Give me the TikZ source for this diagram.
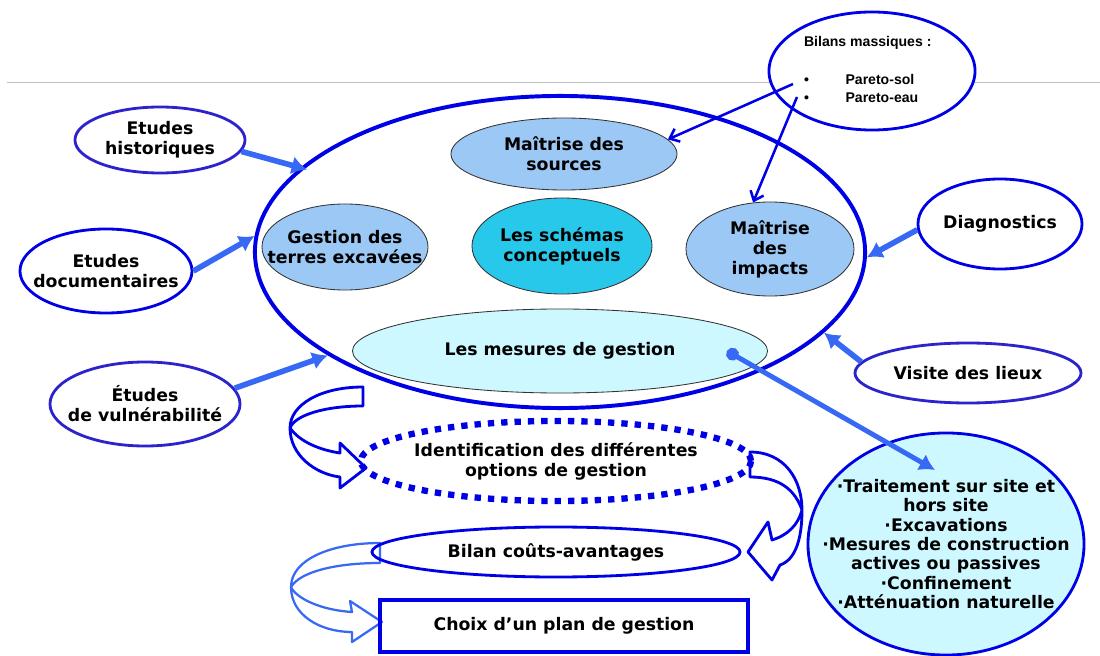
\documentclass[tikz,border=0pt]{standalone}
\usepackage{fontspec}
\setmainfont{DejaVu Sans}
\newfontfamily\arialfont{Liberation Sans}
\usetikzlibrary{shapes.geometric,arrows.meta}

\definecolor{mainblue}{RGB}{0,0,230}
\definecolor{outblue}{RGB}{45,35,205}
\definecolor{arrblue}{RGB}{55,105,245}
\definecolor{lightblue}{RGB}{155,200,245}
\definecolor{cyanfill}{RGB}{40,200,235}
\definecolor{palecyan}{RGB}{205,248,255}

\begin{document}
\begin{tikzpicture}[x=0.025cm,y=-0.025cm,
  every node/.style={font=\bfseries\fontsize{12.3}{14.2}\selectfont, align=center, inner sep=-1.5cm},
  outer/.style={ellipse, draw=outblue, line width=2pt, fill=white},
  inner/.style={ellipse, draw=black!80, line width=0.6pt, fill=lightblue},
  fatarrow/.style={-{Latex[length=11pt,width=13pt]}, arrblue, line width=4pt},
  fromlist/.style={-{Straight Barb[length=6pt,width=10pt]}, mainblue, line width=1.8pt},
  hollowarrow/.style={draw=mainblue, line width=2pt, fill=white, line join=round}]
\useasboundingbox (0,0) rectangle (1100,656);

\draw[gray!50, line width=0.7pt] (7,82) -- (1100,82);

% the big ellipse and what is inside
\node[ellipse, draw=mainblue, line width=2.8pt, minimum width=15.25cm, minimum height=7.8cm] (centre) at (560,252) {};
\node[inner, minimum width=5.65cm, minimum height=1.8cm] (sources) at (564,154) {Maîtrise des\\sources};
\node[inner, minimum width=4.15cm, minimum height=2.15cm] (terres) at (345,247) {Gestion des\\terres excavées};
\node[inner, fill=cyanfill, minimum width=4.5cm, minimum height=2.4cm] (schemas) at (562,246) {Les schémas\\conceptuels};
\node[inner, minimum width=4.2cm, minimum height=2.35cm] (impacts) at (770,249) {Maîtrise\\des\\impacts};
\node[inner, fill=palecyan, minimum width=10.375cm, minimum height=2.1cm] (mesures) at (560,351) {Les mesures de gestion};

% sources around it
\node[outer, minimum width=4.25cm, minimum height=1.65cm] (hist) at (160,140) {Etudes\\historiques};
\node[outer, draw=mainblue, minimum width=4.3cm, minimum height=2.1cm] (docu) at (106,271) {Etudes\\documentaires};
\node[outer, minimum width=4.75cm, minimum height=2.1cm] (vuln) at (145,404) {Études\\de vulnérabilité};
\node[outer, draw=mainblue, minimum width=4.1cm, minimum height=2.25cm] (diag) at (1000,224) {Diagnostics};
\node[outer, minimum width=5.65cm, minimum height=1.5cm] (visite) at (968,373) {Visite des lieux};
\node[outer, draw=mainblue, minimum width=5.15cm, minimum height=2.95cm, font=\arialfont\bfseries\fontsize{10}{12.8}\selectfont] (bilans) at (872,71)
  {\begin{tabular}{@{}l@{\hspace{26pt}}l@{}}\multicolumn{2}{@{}l}{Bilans massiques :}\\[14pt] • & Pareto-sol\\ • & Pareto-eau\end{tabular}};

\draw[fatarrow, shorten >=-5pt] (hist.-8) -- (centre.162);
\draw[fatarrow] (docu.east) -- (centre.177);
\draw[fatarrow] (vuln.10) -- (centre.204);
\draw[fatarrow] (diag.184) -- (centre.-1);
\draw[fatarrow] (visite.174) -- (centre.-17);

\coordinate (pt1) at (793,84);
\coordinate (pt2) at (797,97);
\draw[fromlist] (pt1) -- (sources.8);
\draw[fromlist] (pt2) -- (impacts.110);

% hollow bent arrows
\draw[hollowarrow] (363,387) -- (363,406) .. controls (325,406) and (295,415) .. (290,428)
  .. controls (300,442) and (320,450) .. (340,453) -- (340,443) -- (366,468) -- (340,488) -- (340,477)
  .. controls (315,474) and (290,455) .. (290,428) .. controls (290,405) and (320,387) .. (363,387) -- cycle;
\draw[hollowarrow] (750,452) .. controls (785,452) and (802,480) .. (802,510)
  .. controls (802,540) and (795,560) .. (780,565) -- (772,580) -- (748,552) -- (768,522) -- (772,540)
  .. controls (788,535) and (798,525) .. (802,510) .. controls (795,490) and (780,477) .. (750,477) -- cycle;
\draw[hollowarrow, draw=arrblue, line width=1.6pt] (380,543) .. controls (330,543) and (291,560) .. (291,587)
  .. controls (291,615) and (320,632) .. (352,632) -- (352,642) -- (382,622) -- (350,601) -- (352,612)
  .. controls (320,610) and (296,598) .. (291,587) .. controls (300,572) and (335,563) .. (380,563) -- cycle;

% steps below
\node[ellipse, draw=mainblue, line width=4.5pt, dash pattern=on 4.5pt off 5pt, minimum width=9.75cm, minimum height=2cm] (ident) at (556,461) {Identification des différentes\\options de gestion};
\node[ellipse, draw=mainblue, line width=2pt, minimum width=9.2cm, minimum height=1.25cm] (bilan) at (556,552) {Bilan coûts-avantages};
\node[rectangle, draw=mainblue, line width=3.2pt, minimum width=9.2cm, minimum height=1.3cm] (choix) at (564,626) {Choix d’un plan de gestion};

\node[ellipse, draw=mainblue, line width=2pt, fill=palecyan, minimum width=6.9cm, minimum height=5.55cm, font=\bfseries\fontsize{12.3}{13.8}\selectfont] (traite) at (946,544)
  {·Traitement sur site et\\hors site\\·Excavations\\·Mesures de construction\\actives ou passives\\·Confinement\\·Atténuation naturelle};

\coordinate (dot) at (727,351);
\coordinate (tipT) at (935,470);
\draw[arrblue, line width=3.5pt, {Circle[length=9pt]}-{Latex[length=11pt,width=13pt]}] (dot) -- (tipT);
\end{tikzpicture}
\end{document}
